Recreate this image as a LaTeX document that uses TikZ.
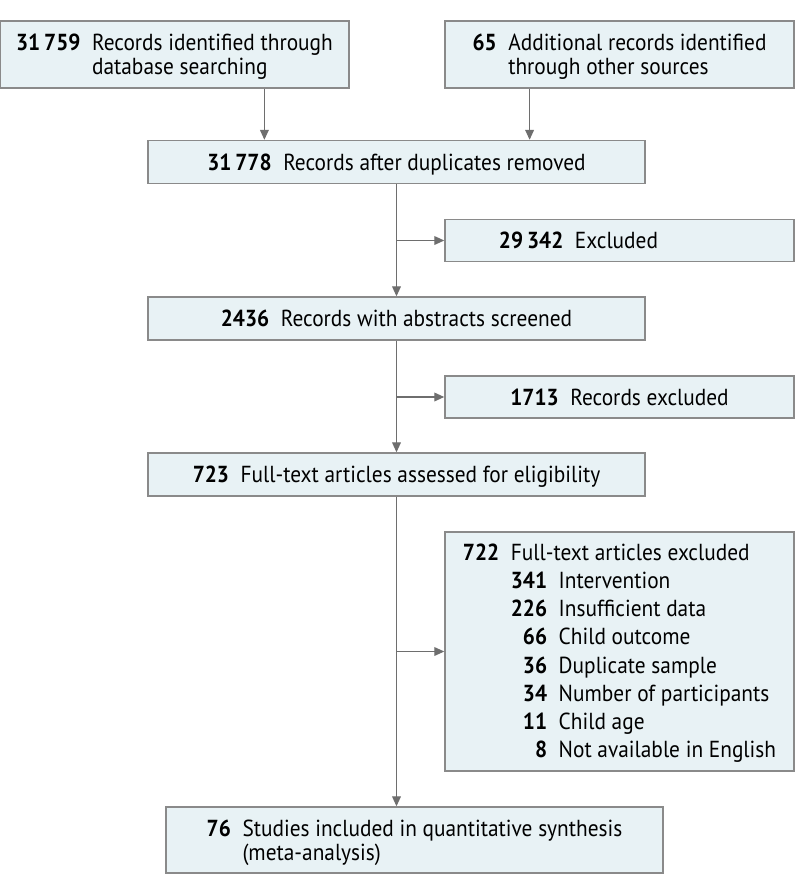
\documentclass[tikz,border=0pt]{standalone}
\usepackage{fontspec}
\setmainfont{PT Sans}[FakeStretch=0.92]
\usepackage{xcolor}
\usetikzlibrary{arrows.meta, calc}
\definecolor{boxfill}{HTML}{E8F2F5}
\definecolor{boxline}{HTML}{8A8A8A}
\definecolor{arrowgray}{HTML}{6E6E6E}
\newcommand{\toprow}{\rule{0pt}{16.6pt}}
\newcommand{\rec}[2]{\begin{tabular}{@{}r@{\enspace}l@{}}\toprow\textbf{#1} & #2\end{tabular}}

\begin{document}
\begin{tikzpicture}[
        x=0.025cm, y=-0.025cm,
        font=\fontsize{16.5}{17.1}\selectfont,
        box/.style={rectangle, draw=boxline, fill=boxfill, line width=1pt, inner sep=0pt},
        wide/.style={box, minimum width=12.425cm, minimum height=1.075cm},
        side/.style={box, minimum width=8.725cm, minimum height=1.05cm},
        arrow/.style={-{Triangle[length=0.25cm, width=0.22cm]}, color=arrowgray, line width=0.9pt}
        ]
        \useasboundingbox (0,0) rectangle (798,896);

        % Identification
        \node[box, minimum width=8.725cm, minimum height=1.675cm] (db) at (174.5,54.5)
            {\rec{31\,759}{Records identified through\\ & database searching}};
        \node[box, minimum width=8.725cm, minimum height=1.675cm] (other) at (619.5,54.5)
            {\rec{65}{Additional records identified\\ & through other sources}};

        % Screening
        \node[wide] (dedup) at (396.5,162) {\rec{31\,778}{Records after duplicates removed}};
        \node[side, align=left, text width=6.025cm, inner xsep=1.35cm] (excl) at (619.5,240.5)
            {\rec{29\,342}{Excluded}};
        \node[wide] (abstr) at (396.5,318.5) {\rec{2436}{Records with abstracts screened}};
        \node[side] (recexcl) at (619.5,397) {\rec{1713}{Records excluded}};

        % Eligibility
        \node[wide] (full) at (396.5,474.5) {\rec{723}{Full-text articles assessed for eligibility}};
        \node[box, minimum width=8.725cm, minimum height=5.975cm, font=\fontsize{16.5}{20}\selectfont] (fullexcl) at (619.5,651.5)
            {\begin{tabular}{@{}r@{\enspace}r@{\enspace}l@{}}
                \toprow\textbf{722} & \multicolumn{2}{@{}l@{}}{Full-text articles excluded}\\
                & \textbf{341} & Intervention\\
                & \textbf{226} & Insufficient data\\
                & \textbf{66} & Child outcome\\
                & \textbf{36} & Duplicate sample\\
                & \textbf{34} & Number of participants\\
                & \textbf{11} & Child age\\
                & \textbf{8} & Not available in English
            \end{tabular}};

        % Included
        \node[box, minimum width=12.425cm, minimum height=1.65cm] (incl) at (414.5,840)
            {\rec{76}{Studies included in quantitative synthesis\\ & (meta-analysis)}};

        % Connections
        \coordinate (in1) at ($(dedup.north west)!0.235!(dedup.north east)$);
        \coordinate (in2) at ($(dedup.north west)!0.767!(dedup.north east)$);
        \draw[arrow] (db.south -| in1) -- (in1);
        \draw[arrow] (other.south -| in2) -- (in2);
        \draw[arrow] (dedup) -- (abstr);
        \draw[arrow] (dedup.south |- excl.west) -- (excl.west);
        \draw[arrow] (abstr) -- (full);
        \draw[arrow] (abstr.south |- recexcl.west) -- (recexcl.west);
        \draw[arrow] (full.south) -- (full.south |- incl.north);
        \draw[arrow] (full.south |- fullexcl.west) -- (fullexcl.west);

    \end{tikzpicture}
\end{document}
